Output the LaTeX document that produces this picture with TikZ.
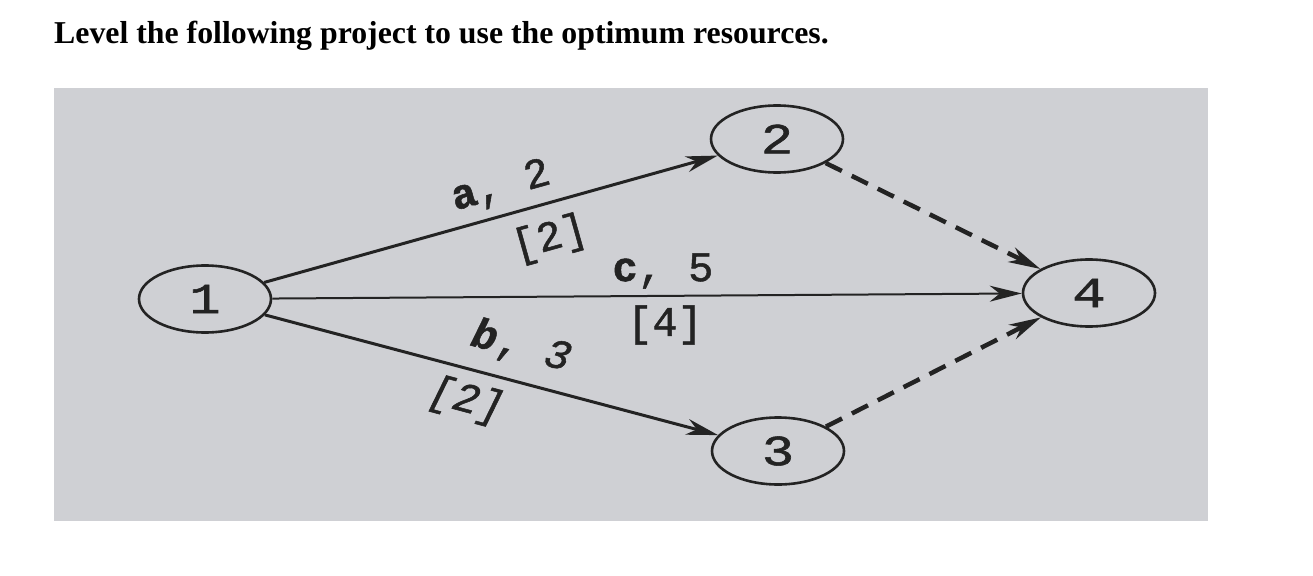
\documentclass[tikz,border=0pt]{standalone}
\usepackage{fontspec}
\usepackage{graphicx}
\setmainfont{Liberation Serif}
\newfontfamily\labfont[FakeBold=1.2]{Liberation Mono}
\usetikzlibrary{shapes.geometric,arrows.meta}
\definecolor{paper}{RGB}{207,208,212}
\definecolor{ink}{RGB}{35,35,35}
\begin{document}
\begin{tikzpicture}[x=1pt,y=-1pt,
  evt/.style={ellipse,draw=ink,line width=2.6pt,minimum width=132pt,minimum height=67pt,inner sep=0pt,
    font=\labfont\fontsize{43}{43}\selectfont,text=ink},
  act/.style={draw=ink,line width=3pt,-{Stealth[length=32pt,width=16pt,inset=10pt]}},
  thinact/.style={act,line width=2pt},
  dum/.style={act,line width=4.5pt,dash pattern=on 18pt off 11pt},
  lab/.style={font=\labfont\fontsize{42}{42}\selectfont,text=ink,inner sep=0pt}]
\useasboundingbox (0,0) rectangle (1313,575);
\fill[white] (0,0) rectangle (1313,575);
\node[anchor=base west,inner sep=0pt,font=\bfseries\fontsize{31.8}{32}\selectfont] (title) at (54,44)
  {Level the following project to use the optimum resources.};
\fill[paper] (54,88) rectangle (1208,521);
% events
\node[evt] (n1) at (205,299) {\scalebox{1.2}[1]{1}};
\node[evt] (n2) at (777,139) {\scalebox{1.25}[1]{2}};
\node[evt] (n3) at (778,451) {\scalebox{1.25}[1]{3}};
\node[evt] (n4) at (1089,293) {\scalebox{1.3}[1]{4}};
% activities
\draw[act] (n1) -- (n2);
\draw[thinact] (n1) -- (n4);
\draw[act] (n1) -- (n3);
\draw[dum] (n2) -- (n4);
\draw[dum] (n3) -- (n4);
% labels
\node[lab,rotate=15.6] (la1) at (501,187) {\textbf{a}, 2};
\node[lab,rotate=15.6] (la2) at (550,239) {[2]};
\node[lab] (lc1) at (663,271) {\textbf{c}, 5};
\node[lab] (lc2) at (665,325) {[4]};
\node[lab,rotate=-15] (lb1) at (521,347) {\textit{\textbf{b}}, \textit{3}};
\node[lab,rotate=-15] (lb2) at (466,401) {\textit{[2]}};
\end{tikzpicture}
\end{document}
